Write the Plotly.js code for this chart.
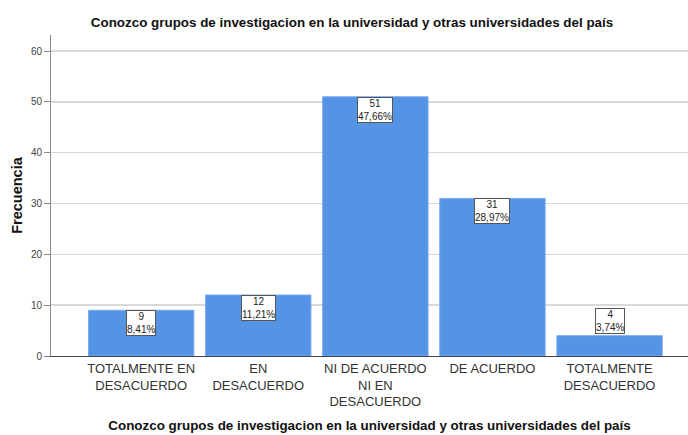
<!DOCTYPE html>
<html>
<head>
<meta charset="utf-8">
<script src="https://cdn.plot.ly/plotly-3.0.1.min.js"></script>
<style>
  html, body { margin: 0; padding: 0; background: #fff; }
  #chart { width: 688px; height: 435px; }
</style>
</head>
<body>
<div id="chart"></div>
<script>
// Conozco grupos de investigacion... frequency chart (SPSS style)
const categories = [
    'TOTALMENTE EN<br>DESACUERDO',
    'EN<br>DESACUERDO',
    'NI DE ACUERDO<br>NI EN<br>DESACUERDO',
    'DE ACUERDO',
    'TOTALMENTE<br>DESACUERDO'
];
const counts = [9, 12, 51, 31, 4];
const percents = ['8,41%', '11,21%', '47,66%', '28,97%', '3,74%'];
const yTicks = [0, 10, 20, 30, 40, 50, 60];

const titleText = 'Conozco grupos de investigacion en la universidad y otras universidades del país';
const barColor = '#5593e4';
const gridColor = '#d9d9d9';

const trace = {
    x: categories.map((c, i) => i),
    y: counts,
    type: 'bar',
    width: 0.9,
    marker: { color: barColor, line: { color: '#7aaaf0', width: 1 } },
    hoverinfo: 'none'
};

// value labels: boxed, at the top of each bar (above it when the bar is too short)
const annotations = counts.map((v, i) => ({
    x: i,
    y: v,
    xref: 'x',
    yref: 'y',
    text: v + '<br>' + percents[i],
    showarrow: false,
    yanchor: v < 6 ? 'bottom' : 'top',
    yshift: v < 6 ? 2 : 0,
    font: { family: 'Liberation Sans, Arial, sans-serif', size: 10, color: '#222' },
    bgcolor: '#ffffff',
    bordercolor: '#555555',
    borderwidth: 1,
    borderpad: 0,
    align: 'center'
}));

const layout = {
    width: 688,
    height: 435,
    margin: { l: 51, r: 0, t: 35, b: 79 },
    paper_bgcolor: '#ffffff',
    plot_bgcolor: '#ffffff',
    showlegend: false,
    font: { family: 'Liberation Sans, Arial, sans-serif', color: '#333' },
    title: {
        text: '<b>' + titleText + '</b>',
        x: 352 / 688,
        xref: 'container',
        xanchor: 'center',
        y: 1 - 22 / 435,
        yref: 'container',
        yanchor: 'middle',
        font: { size: 13.4, color: '#111' }
    },
    xaxis: {
        range: [-0.77, 4.67],
        tickvals: categories.map((c, i) => i),
        ticktext: categories,
        tickfont: { size: 13, color: '#333' },
        showgrid: false,
        zeroline: false,
        showline: true,
        linecolor: '#444',
        linewidth: 1,
        ticks: '',
        title: {
            text: '<b>' + titleText + '</b>',
            font: { size: 13.4, color: '#111' },
            standoff: 12
        },
        fixedrange: true
    },
    yaxis: {
        range: [0, 63.15],
        tickvals: yTicks,
        tickfont: { size: 10, color: '#444' },
        showgrid: true,
        gridcolor: gridColor,
        gridwidth: 1.5,
        zeroline: false,
        showline: true,
        linecolor: '#888',
        linewidth: 1,
        ticks: 'outside',
        ticklen: 6,
        tickcolor: '#888',
        title: {
            text: '<b>Frecuencia</b>',
            font: { size: 14.5, color: '#111' },
            standoff: 4
        },
        fixedrange: true
    },
    annotations: annotations
};

Plotly.newPlot('chart', [trace], layout, { displayModeBar: false, staticPlot: true });
</script>
</body>
</html>
